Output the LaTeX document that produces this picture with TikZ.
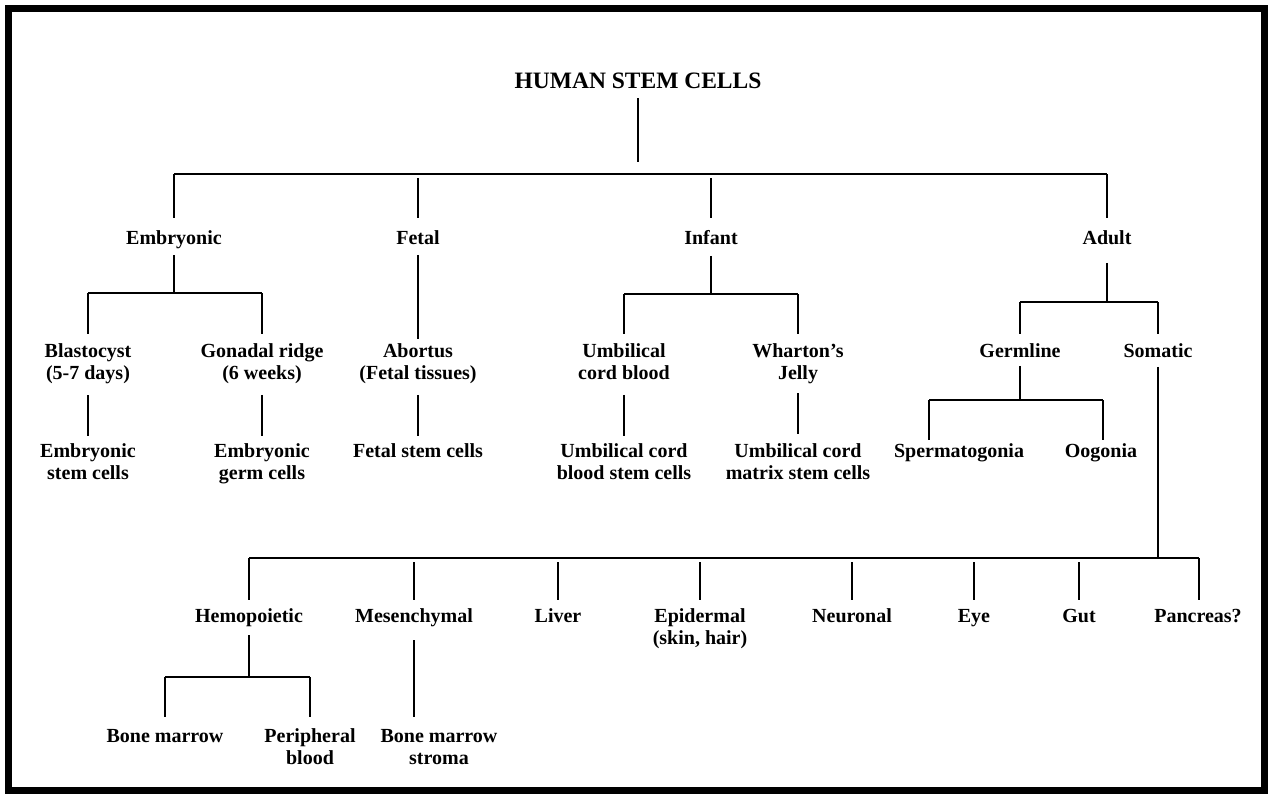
\documentclass[tikz,border=0pt]{standalone}
\usepackage{fontspec}
\setmainfont{Liberation Serif}
\begin{document}
\begin{tikzpicture}[x=1pt,y=-1pt,
  lbl/.style={font=\bfseries\fontsize{20}{22}\selectfont, align=center, anchor=base, inner sep=0pt},
  ttl/.style={font=\bfseries\fontsize{23.5}{26}\selectfont, anchor=base, inner sep=0pt},
  ln/.style={line width=2pt}]
\fill[white] (0,0) rectangle (1268,793);
\useasboundingbox (0,0) rectangle (1268,793);
\draw[line width=7pt] (8.5,8) rectangle (1264.5,790);

% nodes (anchor=base is the baseline of the last line)
\node[ttl] (root) at (638,88) {HUMAN STEM CELLS};
\node[lbl] (emb) at (174,244.5) {Embryonic};
\node[lbl] (fet) at (418,244.5) {Fetal};
\node[lbl] (inf) at (711,244.5) {Infant};
\node[lbl] (adu) at (1107,244.5) {Adult};

\node[lbl] (bla) at (88,379.5) {Blastocyst\\(5-7 days)};
\node[lbl] (gon) at (262,379.5) {Gonadal ridge\\(6 weeks)};
\node[lbl] (abo) at (418,379.5) {Abortus\\(Fetal tissues)};
\node[lbl] (ucb) at (624,379.5) {Umbilical\\cord blood};
\node[lbl] (wha) at (798,379.5) {Wharton’s\\Jelly};
\node[lbl] (ger) at (1020,357.5) {Germline};
\node[lbl] (som) at (1158,357.5) {Somatic};

\node[lbl] (esc) at (88,479.5) {Embryonic\\stem cells};
\node[lbl] (egc) at (262,479.5) {Embryonic\\germ cells};
\node[lbl] (fsc) at (418,457.5) {Fetal stem cells};
\node[lbl] (ucbsc) at (624,479.5) {Umbilical cord\\blood stem cells};
\node[lbl] (ucmsc) at (798,479.5) {Umbilical cord\\matrix stem cells};
\node[lbl] (spe) at (959,457) {Spermatogonia};
\node[lbl] (oog) at (1101,457) {Oogonia};

\node[lbl] (hem) at (249,622.6) {Hemopoietic};
\node[lbl] (mes) at (414,622.6) {Mesenchymal};
\node[lbl] (liv) at (558,622.6) {Liver};
\node[lbl] (epi) at (700,644.6) {Epidermal\\(skin, hair)};
\node[lbl] (neu) at (852,622.6) {Neuronal};
\node[lbl] (eye) at (974,622.6) {Eye};
\node[lbl] (gut) at (1079,622.6) {Gut};
\node[lbl] (pan) at (1198,622.6) {Pancreas?};

\node[lbl] (bm) at (165,742.6) {Bone marrow};
\node[lbl] (pb) at (310,764.6) {Peripheral\\blood};
\node[lbl] (bms) at (439,764.6) {Bone marrow\\stroma};

% bus coordinates
\coordinate (t1) at (638,162);
\coordinate (b1L) at (174,174);
\coordinate (b1R) at (1107,174);
\coordinate (e2L) at (88,293);
\coordinate (e2R) at (262,293);
\coordinate (i2L) at (624,294);
\coordinate (i2R) at (798,294);
\coordinate (a2L) at (1020,302);
\coordinate (a2R) at (1158,302);
\coordinate (g3L) at (929,400);
\coordinate (g3R) at (1103,400);
\coordinate (b4L) at (249,558);
\coordinate (b4R) at (1199,558);
\coordinate (h5L) at (165,677);
\coordinate (h5R) at (310,677);

% root level
\draw[ln, shorten <=10pt] (root.south) -- (t1);
\draw[ln] (b1L) -- (b1R);
\draw[ln, shorten >=12pt] (b1L) -- (emb.north);
\draw[ln, shorten <=4pt, shorten >=12pt] (fet |- b1L) -- (fet.north);
\draw[ln, shorten <=4pt, shorten >=12pt] (inf |- b1L) -- (inf.north);
\draw[ln, shorten >=12pt] (b1R) -- (adu.north);

% embryonic
\draw[ln, shorten <=6pt] (emb.south) -- (emb |- e2L);
\draw[ln] (e2L) -- (e2R);
\draw[ln, shorten >=9pt] (e2L) -- (bla.north);
\draw[ln, shorten >=9pt] (e2R) -- (gon.north);
\draw[ln, shorten <=11pt, shorten >=7pt] (bla.south) -- (esc.north);
\draw[ln, shorten <=11pt, shorten >=7pt] (gon.south) -- (egc.north);

% fetal
\draw[ln, shorten <=10pt, shorten >=4pt] (fet.south) -- (abo.north);
\draw[ln, shorten <=11pt, shorten >=7pt] (abo.south) -- (fsc.north);

% infant
\draw[ln, shorten <=11pt] (inf.south) -- (inf |- i2L);
\draw[ln] (i2L) -- (i2R);
\draw[ln, shorten >=9pt] (i2L) -- (ucb.north);
\draw[ln, shorten >=9pt] (i2R) -- (wha.north);
\draw[ln, shorten <=15pt, shorten >=7pt] (ucb.south) -- (ucbsc.north);
\draw[ln, shorten <=9pt, shorten >=9pt] (wha.south) -- (ucmsc.north);

% adult
\draw[ln, shorten <=18pt] (adu.south) -- (adu |- a2L);
\draw[ln] (a2L) -- (a2R);
\draw[ln, shorten >=9pt] (a2L) -- (ger.north);
\draw[ln, shorten >=9pt] (a2R) -- (som.north);
\draw[ln, shorten <=8pt] (ger.south) -- (ger |- g3L);
\draw[ln] (g3L) -- (g3R);
\draw[ln, shorten >=3pt] (g3L) -- (g3L |- spe.north);
\draw[ln, shorten >=3pt] (g3R) -- (g3R |- oog.north);

% somatic
\draw[ln, shorten <=9pt] (som.south) -- (som |- b4L);
\draw[ln] (b4L) -- (b4R);
\draw[ln, shorten >=9pt] (b4L) -- (hem.north);
\draw[ln, shorten <=4pt, shorten >=9pt] (mes |- b4L) -- (mes.north);
\draw[ln, shorten <=4pt, shorten >=9pt] (liv |- b4L) -- (liv.north);
\draw[ln, shorten <=4pt, shorten >=9pt] (epi |- b4L) -- (epi.north);
\draw[ln, shorten <=4pt, shorten >=9pt] (neu |- b4L) -- (neu.north);
\draw[ln, shorten <=4pt, shorten >=9pt] (eye |- b4L) -- (eye.north);
\draw[ln, shorten <=4pt, shorten >=9pt] (gut |- b4L) -- (gut.north);
\draw[ln, shorten >=9pt] (b4R) -- (b4R |- pan.north);

% hemopoietic / mesenchymal
\draw[ln, shorten <=8pt] (hem.south) -- (hem |- h5L);
\draw[ln] (h5L) -- (h5R);
\draw[ln, shorten >=12pt] (h5L) -- (bm.north);
\draw[ln, shorten >=12pt] (h5R) -- (pb.north);
\draw[ln, shorten <=13pt, shorten >=12pt] (mes.south) -- (mes |- bms.north);
\end{tikzpicture}
\end{document}
